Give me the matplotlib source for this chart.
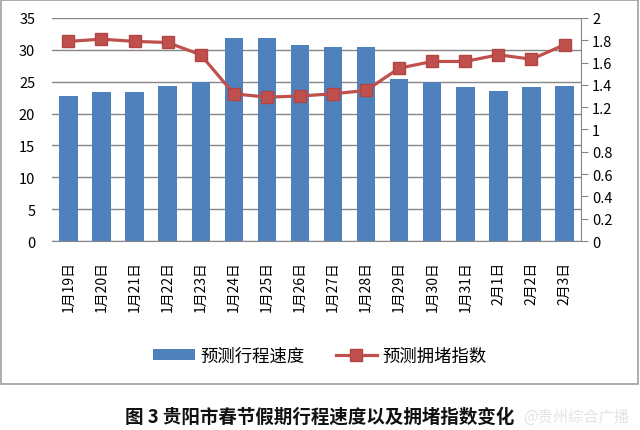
import matplotlib
matplotlib.use("Agg")
import matplotlib.pyplot as plt
from matplotlib.patches import Rectangle
import numpy as np

plt.rcParams['font.family'] = ['Noto Sans CJK SC', 'DejaVu Sans']

DATES = ["1月19日", "1月20日", "1月21日", "1月22日", "1月23日", "1月24日", "1月25日", "1月26日",
         "1月27日", "1月28日", "1月29日", "1月30日", "1月31日", "2月1日", "2月2日", "2月3日"]
SPEED = [22.7, 23.4, 23.4, 24.4, 25.0, 31.8, 31.8, 30.7, 30.5, 30.5, 25.5, 25.0, 24.2, 23.6, 24.2, 24.4]
CONGESTION = [1.79, 1.81, 1.79, 1.78, 1.67, 1.32, 1.29, 1.30, 1.32, 1.35, 1.55, 1.61, 1.61, 1.67, 1.63, 1.76]

BLUE = "#4F81BD"
RED = "#C0504D"
GRID = "#868686"

fig = plt.figure(figsize=(6.4, 4.31), dpi=100)
# outer chart frame
fig.patches.append(Rectangle((0.002, 0.107), 0.995, 0.891, transform=fig.transFigure,
                             fill=False, edgecolor="#a0a0a0", linewidth=1.2))

ax = fig.add_axes([0.081, 0.4385, 0.827, 0.5175])
x = np.arange(len(DATES))
ax.bar(x, SPEED, 0.555, color=BLUE, zorder=2, label="预测行程速度")
ax.set_xlim(-0.5, len(DATES) - 0.5)
ax.set_ylim(0, 35)
ax.set_yticks(range(0, 36, 5))
ax.grid(axis="y", color=GRID, linewidth=1, zorder=0)
for s in ["top", "left", "right"]:
    ax.spines[s].set_visible(False)
ax.spines["bottom"].set_color(GRID)
ax.tick_params(axis="y", length=0, pad=12, labelsize=10.5)
ax.tick_params(axis="x", length=0, pad=14, labelsize=10)
ax.set_xticks(x)
ax.set_xticklabels(DATES, rotation=90, va="top")

ax2 = ax.twinx()
ax2.plot(x, CONGESTION, color=RED, linewidth=2.3, marker="s", markersize=8.6,
         markerfacecolor=RED, markeredgecolor="#B04542", zorder=3, label="预测拥堵指数")
ax2.set_ylim(0, 2)
ax2.set_yticks(np.arange(0, 2.01, 0.2))
ax2.set_yticklabels(["0", "0.2", "0.4", "0.6", "0.8", "1", "1.2", "1.4", "1.6", "1.8", "2"])
for s in ["top", "left", "bottom"]:
    ax2.spines[s].set_visible(False)
ax2.spines["right"].set_color(GRID)
ax2.tick_params(axis="y", length=5, color=GRID, pad=3, labelsize=10.5)

h1, l1 = ax.get_legend_handles_labels()
h2, l2 = ax2.get_legend_handles_labels()
fig.legend(h1 + h2, l1 + l2, loc="center", bbox_to_anchor=(0.5, 0.172), ncol=2,
           frameon=False, fontsize=12.5, handlelength=2.4, handleheight=0.6,
           columnspacing=1.8, handletextpad=0.3)

fig.text(0.5, 0.032, "图 3 贵阳市春节假期行程速度以及拥堵指数变化", ha="center", va="center",
         fontsize=13.3, fontweight="bold", color="#111111")
fig.text(0.818, 0.032, "@贵州综合广播", ha="left", va="center", fontsize=11,
         color="#e0e0e0", alpha=0.9)

fig.savefig("out.png", dpi=100)
